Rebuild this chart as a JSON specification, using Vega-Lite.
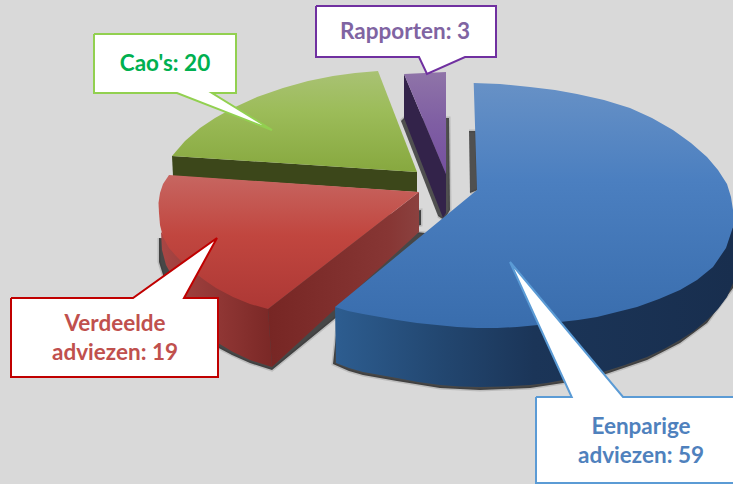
{"$schema":"https://vega.github.io/schema/vega-lite/v6.json","width":733,"height":484,"padding":0,"autosize":{"type":"fit","contains":"padding"},"background":"#d9d9d9","view":{"stroke":null},
"datasets":{
"labels":[{"category":"Eenparige\nadviezen","value":59,"cx":641,"cy":427,"color":"#4f81bd"},{"category":"Verdeelde\nadviezen","value":19,"cx":115,"cy":324,"color":"#c0504d"},{"category":"Cao's","value":20,"cx":165,"cy":64,"color":"#00b050"},{"category":"Rapporten","value":3,"cx":405,"cy":32,"color":"#8064a2"}],
"shadow":[{"i":0,"x":159,"y":238},{"i":1,"x":159,"y":262},{"i":2,"x":164,"y":278},{"i":3,"x":176,"y":296},{"i":4,"x":215,"y":346},{"i":5,"x":232,"y":355},{"i":6,"x":250,"y":363},{"i":7,"x":272,"y":370},{"i":8,"x":338,"y":316},{"i":9,"x":333,"y":364},{"i":10,"x":349,"y":371},{"i":11,"x":363,"y":375},{"i":12,"x":397,"y":381},{"i":13,"x":440,"y":388},{"i":14,"x":480,"y":390},{"i":15,"x":530,"y":388},{"i":16,"x":563,"y":383},{"i":17,"x":603,"y":375},{"i":18,"x":647,"y":360},{"i":19,"x":680,"y":343},{"i":20,"x":707,"y":323},{"i":21,"x":733,"y":288},{"i":22,"x":733,"y":270},{"i":23,"x":400,"y":230},{"i":24,"x":421,"y":225},{"i":25,"x":421,"y":210},{"i":26,"x":200,"y":240}],
"shadowPurple":[{"i":0,"x":401,"y":121},{"i":1,"x":404,"y":118},{"i":2,"x":449,"y":118},{"i":3,"x":450,"y":210},{"i":4,"x":444,"y":220},{"i":5,"x":438,"y":216}],
"shadowBlue":[{"i":0,"x":469,"y":131},{"i":1,"x":476,"y":131},{"i":2,"x":478,"y":190},{"i":3,"x":470,"y":193}],
"purpleSide":[{"i":0,"x":404,"y":74},{"i":1,"x":446,"y":174},{"i":2,"x":446,"y":213},{"i":3,"x":443,"y":218},{"i":4,"x":404,"y":118}],
"purpleTop":[{"i":0,"x":404,"y":74},{"i":1,"x":446,"y":72},{"i":2,"x":446,"y":174}],
"greenSide":[{"i":0,"x":172,"y":156},{"i":1,"x":417,"y":172},{"i":2,"x":417,"y":192},{"i":3,"x":173,"y":176}],
"greenTop":[{"i":0,"x":378,"y":71},{"i":1,"x":355,"y":73},{"i":2,"x":333,"y":76},{"i":3,"x":308,"y":81},{"i":4,"x":283,"y":88},{"i":5,"x":257,"y":97},{"i":6,"x":233,"y":108},{"i":7,"x":215,"y":118},{"i":8,"x":200,"y":128},{"i":9,"x":185,"y":141},{"i":10,"x":172,"y":156},{"i":11,"x":417,"y":172}],
"redOuter":[{"i":0,"x":161,"y":232},{"i":1,"x":162,"y":250},{"i":2,"x":166,"y":265},{"i":3,"x":177,"y":285},{"i":4,"x":190,"y":310},{"i":5,"x":218,"y":343},{"i":6,"x":233,"y":352},{"i":7,"x":250,"y":360},{"i":8,"x":272,"y":367},{"i":9,"x":268,"y":309},{"i":10,"x":200,"y":277}],
"redInner":[{"i":0,"x":268,"y":309},{"i":1,"x":419,"y":192},{"i":2,"x":419,"y":232},{"i":3,"x":272,"y":367}],
"redTop":[{"i":0,"x":169,"y":175},{"i":1,"x":163,"y":184},{"i":2,"x":160,"y":193},{"i":3,"x":158.5,"y":203},{"i":4,"x":159,"y":213},{"i":5,"x":160,"y":225},{"i":6,"x":163,"y":237},{"i":7,"x":169,"y":248},{"i":8,"x":177,"y":257},{"i":9,"x":188,"y":268},{"i":10,"x":200,"y":277},{"i":11,"x":216,"y":288},{"i":12,"x":233,"y":297},{"i":13,"x":250,"y":304},{"i":14,"x":268,"y":309},{"i":15,"x":419,"y":192}],
"blueSide":[{"i":0,"x":335,"y":307},{"i":1,"x":336,"y":363},{"i":2,"x":349,"y":368},{"i":3,"x":363,"y":372},{"i":4,"x":380,"y":375},{"i":5,"x":397,"y":378},{"i":6,"x":418,"y":382},{"i":7,"x":440,"y":385},{"i":8,"x":460,"y":386.5},{"i":9,"x":480,"y":387},{"i":10,"x":505,"y":386.5},{"i":11,"x":530,"y":385},{"i":12,"x":547,"y":383},{"i":13,"x":563,"y":380},{"i":14,"x":583,"y":376.5},{"i":15,"x":603,"y":372},{"i":16,"x":625,"y":365},{"i":17,"x":647,"y":357},{"i":18,"x":664,"y":349},{"i":19,"x":680,"y":340},{"i":20,"x":694,"y":331},{"i":21,"x":707,"y":320},{"i":22,"x":718,"y":309},{"i":23,"x":727,"y":297},{"i":24,"x":733,"y":283},{"i":25,"x":733,"y":227},{"i":26,"x":600,"y":300},{"i":27,"x":450,"y":310}],
"blueTop":[{"i":0,"x":473.7,"y":83},{"i":1,"x":500,"y":84},{"i":2,"x":530,"y":87},{"i":3,"x":555,"y":90},{"i":4,"x":577,"y":94},{"i":5,"x":604,"y":100},{"i":6,"x":630,"y":108},{"i":7,"x":652,"y":118},{"i":8,"x":673,"y":130},{"i":9,"x":691,"y":143},{"i":10,"x":707,"y":157},{"i":11,"x":718,"y":170},{"i":12,"x":727,"y":184},{"i":13,"x":731,"y":197},{"i":14,"x":733,"y":210},{"i":15,"x":733,"y":227},{"i":16,"x":726,"y":248},{"i":17,"x":713,"y":267},{"i":18,"x":697,"y":280},{"i":19,"x":680,"y":290},{"i":20,"x":659,"y":299},{"i":21,"x":637,"y":307},{"i":22,"x":617,"y":312},{"i":23,"x":597,"y":317},{"i":24,"x":578,"y":320},{"i":25,"x":560,"y":322},{"i":26,"x":538,"y":325},{"i":27,"x":517,"y":327},{"i":28,"x":497,"y":328},{"i":29,"x":477,"y":328},{"i":30,"x":457,"y":327},{"i":31,"x":437,"y":325},{"i":32,"x":417,"y":323},{"i":33,"x":397,"y":320},{"i":34,"x":380,"y":317},{"i":35,"x":363,"y":314},{"i":36,"x":348,"y":311},{"i":37,"x":335,"y":307},{"i":38,"x":477,"y":190}],
"calloutGreen":[{"i":0,"x":94,"y":34},{"i":1,"x":236,"y":34},{"i":2,"x":236,"y":93},{"i":3,"x":212,"y":93},{"i":4,"x":272,"y":130},{"i":5,"x":177,"y":93},{"i":6,"x":94,"y":93},{"i":7,"x":94,"y":34}],
"calloutPurple":[{"i":0,"x":316,"y":6},{"i":1,"x":496,"y":6},{"i":2,"x":496,"y":57},{"i":3,"x":465,"y":57},{"i":4,"x":427,"y":74},{"i":5,"x":419,"y":57},{"i":6,"x":316,"y":57},{"i":7,"x":316,"y":6}],
"calloutRed":[{"i":0,"x":11,"y":298},{"i":1,"x":133,"y":298},{"i":2,"x":217,"y":238},{"i":3,"x":184,"y":298},{"i":4,"x":218,"y":298},{"i":5,"x":218,"y":377},{"i":6,"x":11,"y":377},{"i":7,"x":11,"y":298}],
"calloutBlue":[{"i":0,"x":536,"y":397},{"i":1,"x":571.7,"y":397},{"i":2,"x":510,"y":262},{"i":3,"x":623,"y":397},{"i":4,"x":740,"y":397},{"i":5,"x":740,"y":483},{"i":6,"x":536,"y":483},{"i":7,"x":536,"y":397}]
},
"encoding":{"x":{"field":"x","type":"quantitative","axis":null,"scale":{"domain":[0,733],"nice":false,"zero":false}},"y":{"field":"y","type":"quantitative","axis":null,"scale":{"domain":[484,0],"nice":false,"zero":false}},"order":{"field":"i","type":"quantitative"}},
"layer":[
{"data":{"name":"shadow"},"mark":{"type":"line","clip":true,"fill":"#222222","fillOpacity":0.8,"stroke":"#222222","strokeWidth":3,"strokeOpacity":0.15}},
{"data":{"name":"shadowPurple"},"mark":{"type":"line","clip":true,"fill":"#222222","fillOpacity":0.75,"stroke":"#222222","strokeWidth":3,"strokeOpacity":0.15}},
{"data":{"name":"shadowBlue"},"mark":{"type":"line","clip":true,"fill":"#222222","fillOpacity":0.75,"stroke":"#222222","strokeWidth":3,"strokeOpacity":0.15}},
{"data":{"name":"purpleSide"},"mark":{"type":"line","clip":true,"stroke":null,"fill":"#33234a"}},
{"data":{"name":"purpleTop"},"mark":{"type":"line","clip":true,"stroke":null,"fill":{"gradient":"linear","x1":0,"y1":0,"x2":0,"y2":1,"stops":[{"offset":0,"color":"#8f74a8"},{"offset":0.5,"color":"#7f5ea3"},{"offset":1,"color":"#7550a0"}]}}},
{"data":{"name":"greenSide"},"mark":{"type":"line","clip":true,"stroke":null,"fill":"#3c471a"}},
{"data":{"name":"greenTop"},"mark":{"type":"line","clip":true,"stroke":null,"fill":{"gradient":"linear","x1":0,"y1":0,"x2":0,"y2":1,"stops":[{"offset":0,"color":"#a9c274"},{"offset":0.4,"color":"#9cbc59"},{"offset":1,"color":"#87a83f"}]}}},
{"data":{"name":"redOuter"},"mark":{"type":"line","clip":true,"stroke":null,"fill":{"gradient":"linear","x1":0,"y1":0,"x2":1,"y2":0,"stops":[{"offset":0,"color":"#a84644"},{"offset":1,"color":"#7a2826"}]}}},
{"data":{"name":"redInner"},"mark":{"type":"line","clip":true,"stroke":null,"fill":{"gradient":"linear","x1":0,"y1":0,"x2":1,"y2":0,"stops":[{"offset":0,"color":"#772624"},{"offset":0.8,"color":"#873634"},{"offset":1,"color":"#8b413f"}]}}},
{"data":{"name":"redTop"},"mark":{"type":"line","clip":true,"stroke":null,"fill":{"gradient":"linear","x1":0,"y1":0,"x2":0,"y2":1,"stops":[{"offset":0,"color":"#c76661"},{"offset":0.45,"color":"#c1463f"},{"offset":1,"color":"#ad3835"}]}}},
{"data":{"name":"blueSide"},"mark":{"type":"line","clip":true,"stroke":null,"fill":{"gradient":"linear","x1":0,"y1":0,"x2":1,"y2":0,"stops":[{"offset":0,"color":"#2d5d90"},{"offset":0.25,"color":"#234872"},{"offset":0.5,"color":"#1b3558"},{"offset":1,"color":"#182e4e"}]}}},
{"data":{"name":"blueTop"},"mark":{"type":"line","clip":true,"stroke":null,"fill":{"gradient":"linear","x1":0,"y1":0,"x2":0,"y2":1,"stops":[{"offset":0,"color":"#6791c6"},{"offset":0.4,"color":"#4b7fc0"},{"offset":1,"color":"#396dad"}]}}},
{"data":{"name":"calloutGreen"},"mark":{"type":"line","clip":true,"fill":"#ffffff","stroke":"#92d050","strokeWidth":2,"strokeJoin":"miter"}},
{"data":{"name":"calloutPurple"},"mark":{"type":"line","clip":true,"fill":"#ffffff","stroke":"#7030a0","strokeWidth":2,"strokeJoin":"miter"}},
{"data":{"name":"calloutRed"},"mark":{"type":"line","clip":true,"fill":"#ffffff","stroke":"#c00000","strokeWidth":2,"strokeJoin":"miter"}},
{"data":{"name":"calloutBlue"},"mark":{"type":"line","clip":true,"fill":"#ffffff","stroke":"#5b9bd5","strokeWidth":2,"strokeJoin":"miter"}},
{"data":{"name":"labels"},"transform":[{"calculate":"datum.category + ': ' + datum.value","as":"label"}],"mark":{"type":"text","font":"Lato","fontWeight":"bold","fontSize":22.5,"lineBreak":"\n","lineHeight":29,"align":"center","baseline":"middle"},"encoding":{"x":{"field":"cx","type":"quantitative"},"y":{"field":"cy","type":"quantitative"},"text":{"field":"label"},"color":{"field":"color","type":"nominal","scale":null},"order":null}}
]}
